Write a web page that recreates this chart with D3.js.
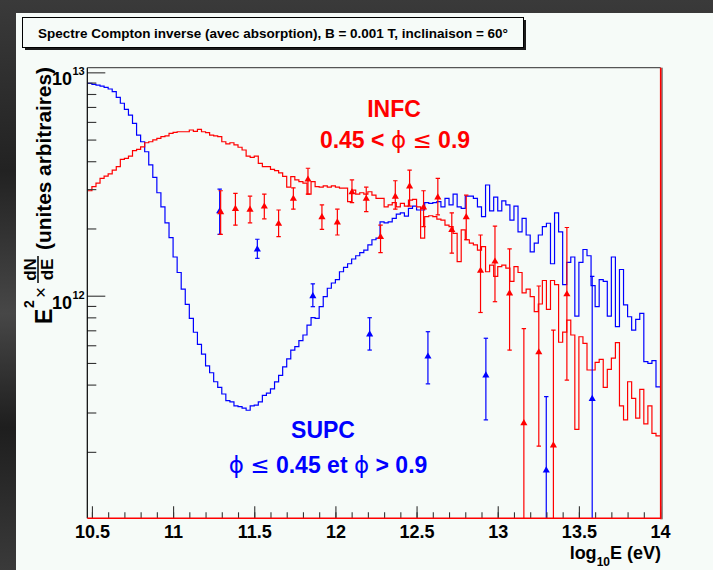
<!DOCTYPE html>
<html><head><meta charset="utf-8">
<script src="https://cdn.jsdelivr.net/npm/d3@7"></script>
<style>body{margin:0;background:#2b2b2b;} svg{display:block} text{font-family:"Liberation Sans",Arial,Helvetica,sans-serif;}</style>
</head><body><svg id="c" width="713" height="570"></svg>
<script>
// ---------------- DATA ----------------
const UNIT = 1e12; // histogram and point values are given in units of 1e12
const binStart = 10.475, binWidth = 0.025;
const blueHist = [
 8.93,8.84,8.77,8.68,8.57,8.42,8.19,7.73,7.27,6.83,
 6.44,5.91,5.24,4.89,4.41,3.85,3.39,2.89,2.50,2.12,
 1.82,1.49,1.27,1.07,0.915,0.792,0.686,0.606,0.548,0.485,
 0.452,0.412,0.389,0.363,0.339,0.335,0.321,0.319,0.314,0.307,
 0.321,0.324,0.335,0.358,0.366,0.383,0.411,0.440,0.480,0.521,
 0.571,0.592,0.630,0.667,0.739,0.797,0.792,0.893,0.990,1.08,
 1.14,1.18,1.28,1.34,1.39,1.46,1.51,1.56,1.60,1.69,
 1.78,1.81,2.14,2.12,2.14,2.22,2.32,2.35,2.27,2.46,
 2.52,2.42,2.42,2.61,2.59,2.61,2.64,2.50,2.73,2.55,
 2.85,2.50,2.46,2.79,2.79,2.73,2.50,2.26,3.13,2.40,
 2.76,2.40,2.66,2.55,2.18,2.52,1.93,2.22,1.87,1.57,
 1.72,1.87,2.04,2.11,1.39,2.35,1.93,1.12,1.41,1.49,
 0.811,1.41,1.61,1.51,1.11,0.893,1.18,1.16,0.811,1.49,
 0.727,1.31,0.909,0.805,0.702,0.784,0.834,0.507,0.498,0.512,
 0.391];
const redHist = [
 2.95,3.08,3.19,3.35,3.43,3.51,3.65,3.78,4.08,4.12,
 4.22,4.46,4.52,4.64,4.84,4.89,4.98,5.06,5.15,5.20,
 5.33,5.39,5.42,5.42,5.42,5.52,5.44,5.56,5.42,5.37,
 5.24,5.19,5.15,4.89,4.78,4.84,4.73,4.62,4.49,4.22,
 4.16,4.22,3.91,3.78,3.78,3.68,3.63,3.55,3.42,3.06,
 3.41,3.30,3.24,3.19,2.85,3.24,3.08,3.06,3.10,3.06,
 3.10,3.06,3.03,3.03,2.64,2.97,2.85,2.89,2.85,2.92,
 2.82,2.73,2.73,2.50,2.55,2.61,2.50,2.59,2.52,2.68,
 2.70,2.50,1.81,2.26,2.28,2.26,2.20,2.18,2.07,2.04,
 1.90,1.42,1.97,1.78,1.72,1.69,1.60,1.66,1.28,1.37,
 1.22,1.35,1.37,1.33,1.16,1.35,1.27,1.03,1.07,0.990,
 0.848,0.918,1.17,0.869,1.17,1.12,0.619,0.687,0.778,0.667,
 0.252,0.655,0.612,0.465,0.465,0.503,0.519,0.389,0.468,0.525,
 0.616,0.321,0.278,0.412,0.347,0.283,0.381,0.267,0.321,0.242,
 0.236];
// INFC points (red)
const redX  = [11.293,11.384,11.474,11.562,11.650,11.741,11.831,11.917,12.012,12.102,12.190,12.278,12.369,12.457,12.543,12.631,12.717,12.806,12.894,12.983,13.073,13.161,13.253,13.343,13.426];
const redY  = [2.38,2.46,2.44,2.52,2.11,2.73,3.33,2.26,2.14,2.92,2.73,1.84,2.79,3.10,2.50,2.77,1.98,2.26,1.30,1.43,1.03,0.270,0.561,0.215,1.02];
const redHi = [2.95,2.87,2.79,2.85,2.42,3.04,3.72,2.55,2.44,3.30,3.06,2.07,3.27,3.65,2.95,3.35,2.35,2.82,1.87,2.05,1.62,0.712,1.105,0.702,2.02];
const redLo = [1.88,2.07,2.12,2.21,1.84,2.44,2.85,1.98,1.87,2.61,2.38,1.56,2.44,2.52,2.04,2.30,1.55,1.78,0.841,0.940,0.571,0,0.212,0,0.419];
// SUPC points (blue)
const blueX  = [11.287,11.519,11.861,12.211,12.570,12.927,13.299,13.582];
const blueY  = [2.40,1.62,1.00,0.674,0.537,0.442,0.166,0.347];
const blueHi = [3.00,1.79,1.13,0.797,0.690,0.645,0.353,1.22];
const blueLo = [1.88,1.47,0.893,0.571,0.403,0.278,0,0];
// axes
const xMajorTicks = [10.5,11,11.5,12,12.5,13,13.5,14];
const xTickLabels = ["10.5","11","11.5","12","12.5","13","13.5","14"];
const xMinorTicks = d3.range(105,141).map(v=>v/10);
const yMajorTicks = [1e12,1e13];
const yMinorTicks = [2e11,3e11,4e11,5e11,6e11,7e11,8e11,9e11,2e12,3e12,4e12,5e12,6e12,7e12,8e12,9e12];
const titleText = "Spectre Compton inverse (avec absorption), B = 0.001 T, inclinaison = 60\u00B0";

// ---------------- LAYOUT ----------------
const L = 87.3, R = 660.7, T = 67.7, B = 518.3;
const RED = "#ff0000", BLUE = "#0000ff", BG = "#f6fbf8";
const svg = d3.select("#c");
const defs = svg.append("defs");
const grad = defs.append("linearGradient").attr("id","bg").attr("x1",0).attr("y1",0).attr("x2",0).attr("y2",1);
[["0%","#3a3a3a"],["30%","#222"],["55%","#474747"],["75%","#1e1e1e"],["100%","#3a3a3a"]].forEach(s=>grad.append("stop").attr("offset",s[0]).attr("stop-color",s[1]));
svg.append("rect").attr("width",713).attr("height",570).attr("fill","url(#bg)");
svg.append("rect").attr("x",16).attr("y",13).attr("width",697).attr("height",557).attr("fill",BG);
defs.append("clipPath").attr("id","plot").append("rect").attr("x",L).attr("y",T).attr("width",R-L).attr("height",B-T);

// title
svg.append("rect").attr("x",25).attr("y",20).attr("width",501).attr("height",30).attr("fill","#1c1c1c");
svg.append("rect").attr("x",22.5).attr("y",17.5).attr("width",501).attr("height",30).attr("fill",BG).attr("stroke","#000").attr("stroke-width",1);
svg.append("text").attr("x",273).attr("y",37.5).attr("text-anchor","middle").attr("font-size",13).attr("font-weight","bold")
  .attr("textLength",470).attr("lengthAdjust","spacingAndGlyphs").text(titleText);

// scales
const x = d3.scaleLinear().domain([10.4715,14.004]).range([L,R]);
const y = d3.scaleLog().domain([1.008e11,1.049e13]).range([B,T]);
const yc = v => v<=0 ? B : Math.min(B, Math.max(T, y(v)));

// histograms
const stepLine = d3.line().curve(d3.curveStepAfter).x(d=>x(d[0])).y(d=>y(d[1]));
function histPts(vals){
  const p = vals.map((v,i)=>[binStart+i*binWidth, v*UNIT]);
  p.push([binStart+vals.length*binWidth, vals[vals.length-1]*UNIT]);
  return p;
}
const gData = svg.append("g").attr("clip-path","url(#plot)");
gData.append("path").attr("d",stepLine(histPts(blueHist))).attr("fill","none").attr("stroke",BLUE).attr("stroke-width",1.2);
gData.append("path").attr("d",stepLine(histPts(redHist))).attr("fill","none").attr("stroke",RED).attr("stroke-width",1.2);

function drawPoints(X,Y,H,Lo,color){
  const g = gData.append("g");
  X.forEach((xv,i)=>{
    const px = x(xv), top = yc(H[i]*UNIT), bot = yc(Lo[i]*UNIT);
    g.append("line").attr("x1",px).attr("x2",px).attr("y1",top).attr("y2",bot).attr("stroke",color).attr("stroke-width",1.2);
    g.append("line").attr("x1",px-2.2).attr("x2",px+2.2).attr("y1",top).attr("y2",top).attr("stroke",color).attr("stroke-width",1.2);
    if (Lo[i]>0) g.append("line").attr("x1",px-2.2).attr("x2",px+2.2).attr("y1",bot).attr("y2",bot).attr("stroke",color).attr("stroke-width",1.2);
    g.append("path").attr("d",d3.symbol(d3.symbolTriangle,22)()).attr("transform",`translate(${px},${y(Y[i]*UNIT)+0.5})`).attr("fill",color);
  });
}
drawPoints(blueX,blueY,blueHi,blueLo,BLUE);
drawPoints(redX,redY,redHi,redLo,RED);

// axes ticks
const axG = svg.append("g").attr("font-family","Liberation Sans, Arial, sans-serif");
axG.append("g").attr("transform",`translate(0,${B})`)
  .call(d3.axisBottom(x).tickValues(xMinorTicks).tickSize(-6).tickFormat(""));
const xMajor = axG.append("g").attr("transform",`translate(0,${B})`)
  .call(d3.axisBottom(x).tickValues(xMajorTicks).tickSize(-12).tickPadding(7).tickFormat((d,i)=>xTickLabels[i]));
xMajor.selectAll("text").attr("font-size",18).attr("font-weight","bold").attr("fill","#000");
axG.append("g").attr("transform",`translate(${L},0)`)
  .call(d3.axisRight(y).tickValues(yMinorTicks).tickSize(9).tickFormat(""));
axG.append("g").attr("transform",`translate(${L},0)`)
  .call(d3.axisRight(y).tickValues(yMajorTicks).tickSize(18).tickFormat(""));
axG.selectAll(".domain").remove();
axG.selectAll(".tick line").attr("stroke","#333").attr("stroke-width",1.1);

// y tick labels (10^n)
yMajorTicks.forEach(v=>{
  const py = y(v), e = Math.round(Math.log10(v));
  svg.append("text").attr("x",72).attr("y",py+13).attr("text-anchor","end").attr("font-size",18).attr("font-weight","bold").text("10");
  svg.append("text").attr("x",72.5).attr("y",py+3).attr("font-size",11).attr("font-weight","bold").text(e);
});

// frame
svg.append("line").attr("x1",L).attr("x2",R).attr("y1",T).attr("y2",T).attr("stroke","#555").attr("stroke-width",1.2);
svg.append("line").attr("x1",L).attr("x2",L).attr("y1",T).attr("y2",B).attr("stroke","#000").attr("stroke-width",1.2);
svg.append("line").attr("x1",R+1.3).attr("x2",R+1.3).attr("y1",T).attr("y2",B+1).attr("stroke","#222").attr("stroke-width",1);
svg.append("line").attr("x1",R).attr("x2",R).attr("y1",T).attr("y2",B+1).attr("stroke",RED).attr("stroke-width",1.6);
svg.append("line").attr("x1",L).attr("x2",R).attr("y1",B).attr("y2",B).attr("stroke",RED).attr("stroke-width",1.6);

// x-axis title
const xt = svg.append("text").attr("x",661).attr("y",558.5).attr("text-anchor","end").attr("font-size",18).attr("font-weight","bold");
xt.append("tspan").text("log");
xt.append("tspan").attr("font-size",12).attr("dy",7).text("10");
xt.append("tspan").attr("dy",-7).text("E (eV)");

// y-axis title (rotated)
const yt = svg.append("g").attr("transform","rotate(-90)").attr("font-weight","bold");
yt.append("text").attr("x",-324).attr("y",52).attr("font-size",23).text("E");
yt.append("text").attr("x",-308).attr("y",34).attr("font-size",14).text("2");
yt.append("text").attr("x",-298).attr("y",47).attr("font-size",19).attr("font-weight","normal").text("\u00D7");
yt.append("text").attr("x",-269.5).attr("y",35.5).attr("text-anchor","middle").attr("font-size",17).text("dN");
yt.append("line").attr("x1",-283).attr("x2",-256).attr("y1",38).attr("y2",38).attr("stroke","#000").attr("stroke-width",1.5);
yt.append("text").attr("x",-269.5).attr("y",53).attr("text-anchor","middle").attr("font-size",17).text("dE");
yt.append("text").attr("x",-250).attr("y",51).attr("font-size",20).attr("textLength",183).attr("lengthAdjust","spacingAndGlyphs").text("(unites arbitraires)");

// legend texts
function legend(cx, by, parts, color){
  const t = svg.append("text").attr("x",cx).attr("y",by).attr("text-anchor","middle").attr("fill",color).attr("font-size",23).attr("font-weight","bold");
  parts.forEach(p=>{ const s=t.append("tspan").text(p[0]); if(p[1]) s.attr("font-weight","normal").attr("font-family","DejaVu Sans"); });
}
legend(394,116.5,[["INFC"]],RED);
legend(395,148,[["0.45 < "],["\u03D5",1],[" "],["\u2264",1],[" 0.9"]],RED);
legend(323,438,[["SUPC"]],BLUE);
legend(328,472.5,[["\u03D5",1],[" "],["\u2264",1],[" 0.45 et "],["\u03D5",1],[" > 0.9"]],BLUE);
</script></body></html>
